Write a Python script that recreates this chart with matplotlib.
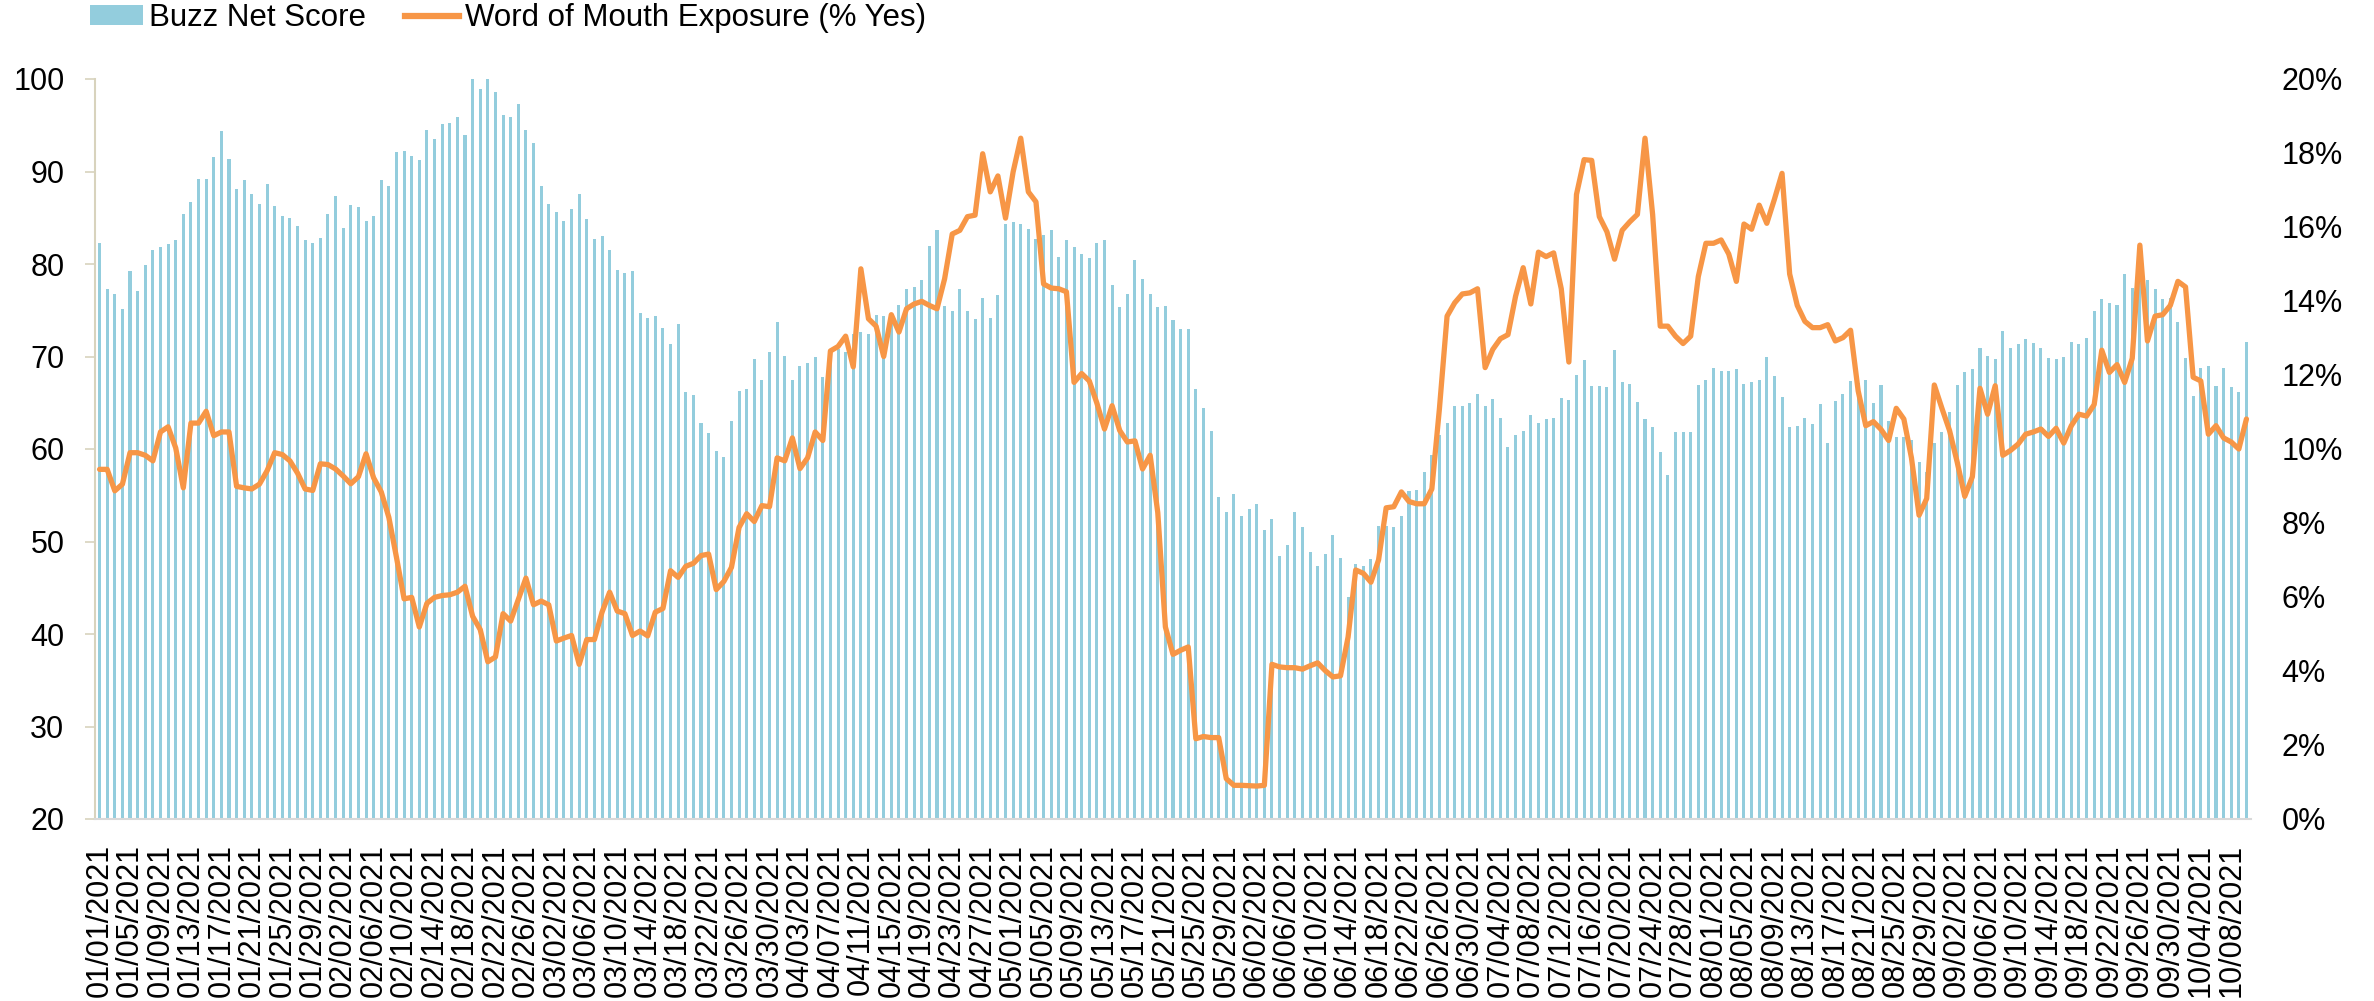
import numpy as np
import pandas as pd
import matplotlib
matplotlib.use('Agg')
import matplotlib.pyplot as plt
from matplotlib.patches import Patch
from matplotlib.lines import Line2D
from matplotlib.ticker import FuncFormatter

plt.rcParams['font.family'] = ['Liberation Sans', 'DejaVu Sans']

# daily values, 01/01/2021 .. 10/10/2021
buzz_net_score = [
    82.3, 77.3, 76.8, 75.1, 79.2, 77.1, 79.9, 81.5, 81.8, 82.2,
    82.6, 85.4, 86.7, 89.2, 89.2, 91.6, 94.4, 91.4, 88.1, 89.1,
    87.6, 86.5, 88.7, 86.3, 85.2, 85.0, 84.1, 82.6, 82.3, 82.8,
    85.4, 87.4, 83.9, 86.4, 86.2, 84.6, 85.2, 89.1, 88.4, 92.1,
    92.2, 91.7, 91.2, 94.5, 93.5, 95.1, 95.2, 95.9, 93.9, 100.0,
    98.9, 100.0, 98.6, 96.1, 95.9, 97.3, 94.5, 93.1, 88.4, 86.5,
    85.6, 84.7, 85.9, 87.6, 84.9, 82.7, 83.0, 81.5, 79.4, 79.0,
    79.2, 74.7, 74.2, 74.4, 73.1, 71.3, 73.5, 66.2, 65.8, 62.8,
    61.7, 59.8, 59.1, 63.0, 66.3, 66.5, 69.7, 67.5, 70.5, 73.7,
    70.1, 67.5, 69.0, 69.3, 69.9, 67.8, 70.6, 70.8, 70.5, 72.4,
    72.6, 72.4, 74.5, 74.4, 74.6, 75.6, 77.3, 77.5, 78.3, 81.9,
    83.7, 75.5, 74.9, 77.3, 74.9, 74.1, 76.3, 74.2, 76.6, 84.3,
    84.5, 84.3, 83.8, 82.7, 83.1, 83.7, 80.8, 82.6, 81.8, 81.1,
    80.7, 82.3, 82.6, 77.7, 75.3, 76.8, 80.4, 78.4, 76.8, 75.3,
    75.5, 73.9, 73.0, 73.0, 66.5, 64.4, 62.0, 54.8, 53.2, 55.1,
    52.8, 53.5, 54.1, 51.2, 52.4, 48.4, 49.6, 53.2, 51.6, 48.9,
    47.4, 48.7, 50.7, 48.2, 44.0, 47.6, 47.3, 48.1, 51.7, 51.7,
    51.6, 52.8, 55.5, 55.6, 57.5, 59.3, 61.5, 62.8, 64.7, 64.7,
    65.0, 65.9, 64.7, 65.4, 63.3, 60.2, 61.5, 62.0, 63.7, 62.8,
    63.2, 63.3, 65.5, 65.3, 68.0, 69.6, 66.8, 66.8, 66.7, 70.7,
    67.2, 67.0, 65.1, 63.2, 62.4, 59.7, 57.2, 61.8, 61.8, 61.8,
    66.9, 67.5, 68.8, 68.4, 68.4, 68.6, 67.0, 67.2, 67.5, 69.9,
    67.9, 65.6, 62.4, 62.5, 63.4, 62.7, 64.9, 60.6, 65.2, 66.0,
    67.4, 67.1, 67.5, 65.0, 66.9, 63.0, 61.3, 61.3, 61.0, 58.6,
    57.5, 60.6, 61.8, 64.0, 66.9, 68.3, 68.6, 70.9, 70.1, 69.7,
    72.8, 70.9, 71.3, 71.9, 71.5, 70.9, 69.8, 69.7, 70.0, 71.6,
    71.3, 72.0, 74.9, 76.2, 75.8, 75.6, 78.9, 77.4, 78.4, 78.3,
    77.3, 76.2, 76.3, 73.7, 69.8, 65.7, 68.8, 69.0, 66.8, 68.8,
    66.7, 66.2, 71.6,
]

# word of mouth exposure, % yes
wom_exposure = [
    9.45, 9.45, 8.87, 9.05, 9.90, 9.90, 9.83, 9.68, 10.46, 10.60,
    10.03, 8.95, 10.70, 10.70, 11.02, 10.36, 10.46, 10.46, 8.99, 8.95,
    8.92, 9.05, 9.41, 9.90, 9.85, 9.68, 9.35, 8.92, 8.88, 9.60,
    9.58, 9.46, 9.27, 9.06, 9.25, 9.87, 9.22, 8.84, 8.15, 7.07,
    5.95, 5.99, 5.19, 5.83, 5.99, 6.04, 6.06, 6.13, 6.29, 5.48,
    5.12, 4.25, 4.38, 5.55, 5.35, 5.93, 6.51, 5.79, 5.89, 5.79,
    4.81, 4.89, 4.96, 4.18, 4.85, 4.85, 5.59, 6.13, 5.62, 5.55,
    4.96, 5.08, 4.95, 5.59, 5.69, 6.71, 6.53, 6.83, 6.91, 7.12,
    7.16, 6.20, 6.42, 6.80, 7.88, 8.25, 8.04, 8.47, 8.44, 9.76,
    9.68, 10.30, 9.47, 9.76, 10.46, 10.23, 12.65, 12.77, 13.05, 12.22,
    14.87, 13.52, 13.32, 12.50, 13.63, 13.16, 13.79, 13.92, 13.99, 13.88,
    13.79, 14.60, 15.81, 15.91, 16.28, 16.32, 17.98, 16.95, 17.38, 16.24,
    17.49, 18.40, 16.95, 16.68, 14.46, 14.35, 14.33, 14.25, 11.80, 12.04,
    11.84, 11.24, 10.54, 11.17, 10.50, 10.19, 10.22, 9.46, 9.83, 8.28,
    5.19, 4.45, 4.56, 4.65, 2.17, 2.23, 2.20, 2.20, 1.09, 0.91,
    0.91, 0.90, 0.89, 0.91, 4.18, 4.11, 4.09, 4.09, 4.05, 4.14,
    4.22, 4.01, 3.84, 3.87, 4.92, 6.73, 6.64, 6.40, 7.00, 8.41,
    8.44, 8.84, 8.58, 8.52, 8.52, 8.92, 11.10, 13.59, 13.95, 14.19,
    14.22, 14.33, 12.20, 12.69, 12.98, 13.09, 14.13, 14.90, 13.92, 15.32,
    15.20, 15.30, 14.33, 12.35, 16.88, 17.82, 17.80, 16.28, 15.87, 15.13,
    15.91, 16.14, 16.34, 18.40, 16.34, 13.32, 13.32, 13.05, 12.85, 13.05,
    14.66, 15.56, 15.56, 15.65, 15.27, 14.53, 16.08, 15.94, 16.59, 16.10,
    16.75, 17.45, 14.73, 13.88, 13.45, 13.28, 13.28, 13.36, 12.92, 13.01,
    13.21, 11.57, 10.63, 10.74, 10.53, 10.23, 11.10, 10.81, 9.76, 8.21,
    8.66, 11.73, 11.10, 10.50, 9.65, 8.72, 9.25, 11.64, 10.94, 11.71,
    9.83, 9.96, 10.13, 10.40, 10.46, 10.54, 10.34, 10.56, 10.16, 10.63,
    10.94, 10.89, 11.20, 12.67, 12.07, 12.28, 11.80, 12.45, 15.51, 12.92,
    13.59, 13.63, 13.88, 14.53, 14.38, 11.94, 11.84, 10.40, 10.63, 10.30,
    10.19, 10.00, 10.81,
]

dates = pd.date_range('2021-01-01', periods=len(buzz_net_score), freq='D')
tick_labels = [d.strftime('%m/%d/%Y') for d in dates[::4]]

bar_color = '#93CDDD'
line_color = '#F79646'
fs = 22

fig = plt.figure(figsize=(23.74, 10.01), dpi=100)
ax = fig.add_axes([95 / 2374, 1 - 819 / 1001, (2251 - 95) / 2374, (819 - 79) / 1001])

x = np.arange(len(dates))
ax.bar(x, buzz_net_score, width=0.4, color=bar_color)
ax.set_ylim(20, 100)
ax.set_yticks(range(20, 101, 10))
ax.set_xlim(-0.6, len(x) - 0.4)
ax.set_xticks(x[::4])
ax.set_xticklabels(tick_labels, rotation=90)
ax.tick_params(axis='x', length=0, pad=18, labelsize=fs)
ax.tick_params(axis='y', length=7, width=1.2, color='#D8D3BD', pad=15, labelsize=fs)
for s in ['top', 'right']:
    ax.spines[s].set_visible(False)
ax.spines['left'].set_color('#D8D3BD')
ax.spines['left'].set_linewidth(1.5)
ax.spines['bottom'].set_color('#D9D9D9')
ax.spines['bottom'].set_linewidth(1.5)

ax2 = ax.twinx()
ax2.plot(x, wom_exposure, color=line_color, lw=3.8, solid_joinstyle='round', solid_capstyle='round')
ax2.set_ylim(0, 20)
ax2.set_yticks(range(0, 21, 2))
ax2.yaxis.set_major_formatter(FuncFormatter(lambda v, p: f'{v:.0f}%'))
ax2.tick_params(axis='y', length=0, pad=22, labelsize=fs)
for s in ax2.spines.values():
    s.set_visible(False)

handles = [Patch(facecolor=bar_color, edgecolor='none'),
           Line2D([], [], color=line_color, lw=4.5)]
fig.legend(handles, ['Buzz Net Score', 'Word of Mouth Exposure (% Yes)'],
           loc='center left', bbox_to_anchor=(90 / 2374, 1 - 18 / 1001), ncol=2,
           frameon=False, fontsize=22.5, handlelength=1.7, handleheight=0.6,
           handletextpad=0.2, columnspacing=1.25, borderaxespad=0, borderpad=0)

fig.savefig('out.png', dpi=100)
